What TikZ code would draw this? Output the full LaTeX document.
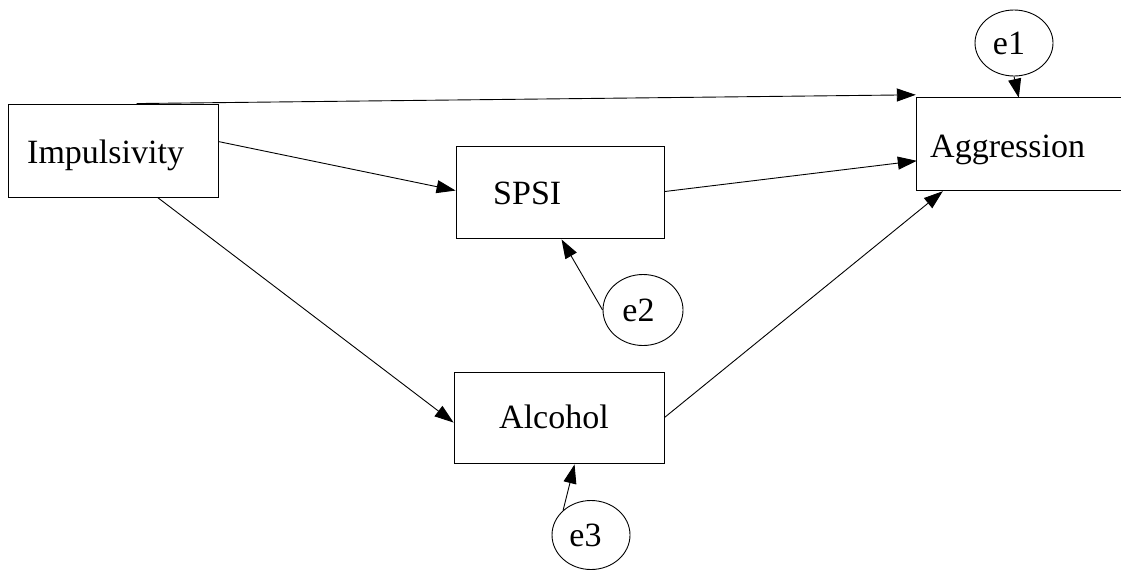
\documentclass[tikz,border=0pt]{standalone}
\usepackage{fontspec}
\setmainfont{Liberation Serif}
\usetikzlibrary{arrows.meta,calc,shapes.geometric}
\begin{document}
\begin{tikzpicture}[x=1pt,y=-1pt,
  box/.style={draw, line width=0.9pt, rectangle, inner sep=0pt},
  err/.style={draw, line width=0.9pt, ellipse, inner sep=0pt, font=\fontsize{34}{40}\selectfont},
  lbl/.style={inner sep=0pt, font=\fontsize{34}{40}\selectfont, anchor=base west},
  conn/.style={line width=0.9pt, -{Triangle[length=19pt,width=13pt]}}]
\useasboundingbox (0,0) rectangle (1121,571);
% boxes
\node[box, minimum width=210pt, minimum height=93pt] (imp) at (113,150.5) {};
\node[box, minimum width=208pt, minimum height=92pt] (spsi) at (560,192) {};
\node[box, minimum width=210pt, minimum height=91pt] (alc) at (559,417.5) {};
\node[inner sep=0pt, minimum width=204pt, minimum height=92pt] (agg) at (1019,144) {};
\draw[line width=0.9pt] (agg.north east) -- (agg.north west) -- (agg.south west) -- (agg.south east);
% labels
\node[lbl] (impT) at (27,163) {Impulsivity};
\node[lbl] (spsiT) at (493,204) {SPSI};
\node[lbl] (alcT) at (499,428) {Alcohol};
\node[lbl] (aggT) at (930,157) {Aggression};
% error terms
\node[err, minimum width=78pt, minimum height=66pt] (e1) at (1014,43) {\hspace*{-10pt}e1};
\node[err, minimum width=80pt, minimum height=71pt] (e2) at (643,310) {\hspace*{-9pt}e2};
\node[err, minimum width=78pt, minimum height=69pt] (e3) at (591,535) {\hspace*{-11pt}e3};
% paths
\draw[conn] ($(imp.north west)+(129,0)$) -- ($(agg.north west)+(-1,-3)$);
\draw[conn] ($(imp.north east)+(0,38)$) -- ($(spsi.north west)+(0,45)$);
\draw[conn] ($(imp.south west)+(150,0)$) -- ($(alc.north west)+(0,51)$);
\draw[conn] ($(spsi.north east)+(0,46)$) -- ($(agg.north west)+(0,63)$);
\draw[conn] ($(alc.north east)+(0,46)$) -- ($(agg.south west)+(26,1)$);
\draw[conn] (e1.south) -- ($(agg.north west)+(102,0)$);
\draw[conn] (e2.west) -- ($(spsi.south west)+(106,1)$);
\draw[conn] (e3.north west) -- ($(alc.south west)+(121,1)$);
\end{tikzpicture}
\end{document}
